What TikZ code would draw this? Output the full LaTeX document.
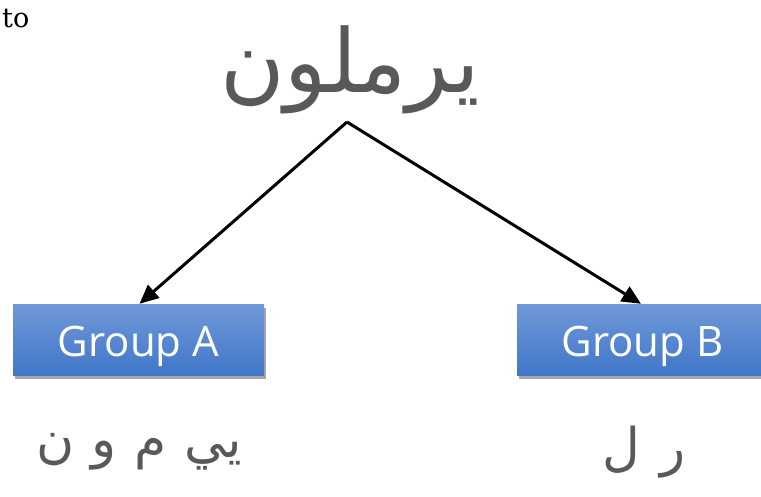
\documentclass[tikz,border=0pt]{standalone}
\usepackage{fontspec}
\setmainfont{DejaVu Serif}
\newfontfamily\arabicfont[Script=Arabic]{DejaVu Sans}
\newfontfamily\boxfont{Open Sans}
\TeXXeTstate=1
\usetikzlibrary{arrows.meta,shadows}
\definecolor{artext}{RGB}{89,89,89}
\definecolor{boxtop}{RGB}{112,152,216}
\definecolor{boxbot}{RGB}{64,119,201}
\tikzset{
  groupbox/.style={rectangle, minimum width=251pt, minimum height=71pt, inner sep=0pt,
    text height=34pt, text depth=0pt,
    top color=boxtop, bottom color=boxbot, draw=none,
    drop shadow={shadow xshift=2pt, shadow yshift=-4pt, fill=black, opacity=0.35},
    text=white, font=\boxfont\fontsize{42}{44}\selectfont},
  conn/.style={line width=3pt, -{Triangle[length=19pt,width=17pt]}},
  artxt/.style={text=artext, inner sep=0pt}
}
\begin{document}
\begin{tikzpicture}[x=1pt,y=-1pt]
\useasboundingbox (0,0) rectangle (761,496);
\node[anchor=base west, inner sep=0pt, font=\fontsize{27}{30}\selectfont] (to) at (2,27) {to};
\node[artxt, font=\arabicfont\fontsize{88}{96}\selectfont] (root) at (350,70) {\beginR يرملون\endR};
\coordinate (top) at (347,122);
\node[groupbox] (ga) at (138.5,339.5) {Group A};
\node[groupbox] (gb) at (642.5,339.5) {Group B};
\draw[conn] (top) -- ([xshift=1pt]ga.north);
\draw[conn] (top) -- ([xshift=-1.5pt]gb.north);
\node[artxt, font=\arabicfont\fontsize{52}{56}\selectfont] (wa) at (139,452) {\beginR يي\hspace{1pt} م\hspace{1pt} و\hspace{1pt} ن\endR};
\node[artxt, font=\arabicfont\fontsize{52}{56}\selectfont] (wb) at (644,452) {\beginR ر\hspace{4pt} ل\endR};
\end{tikzpicture}
\end{document}
